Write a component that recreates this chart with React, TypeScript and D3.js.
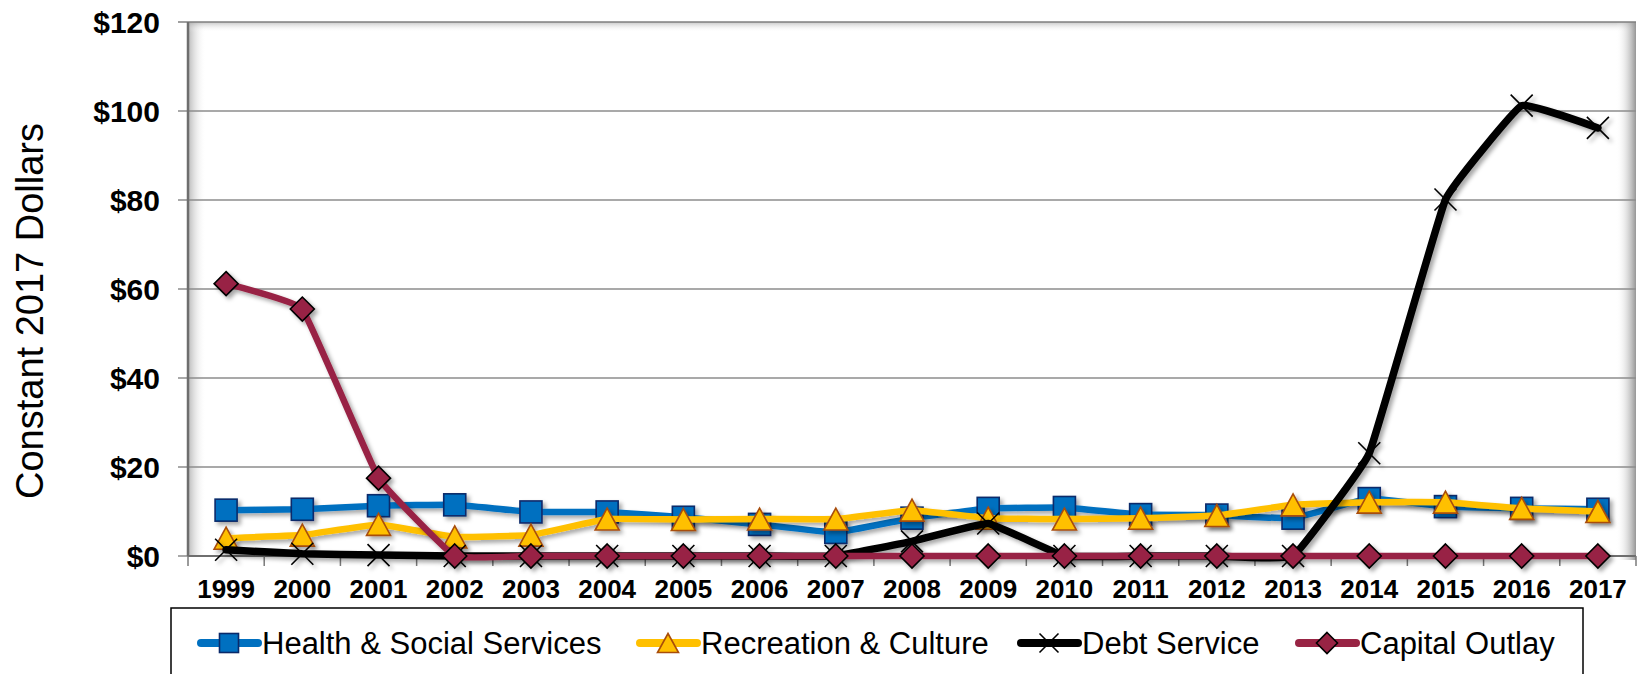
import React from "react";
import * as d3 from "d3";

const years = ["1999","2000","2001","2002","2003","2004","2005","2006","2007","2008","2009","2010","2011","2012","2013","2014","2015","2016","2017"];
const health = [10.3,10.5,11.3,11.5,9.9,9.9,8.7,7.1,5.3,8.5,10.7,10.9,9.3,9.2,8.5,12.9,11.1,10.7,10.5];
const recreation = [4.0,4.7,7.1,4.3,4.7,8.3,8.2,8.3,8.3,10.3,8.5,8.3,8.5,9.1,11.5,12.1,12.1,10.7,10.0];
const debt = [1.4,0.5,0.2,0,0,0,0,0,0,3.3,7.3,0,0,0,0,23.1,80.1,101.2,96.2];
const capital = [61.2,55.5,17.5,0,0,0,0,0,0,0,0,0,0,0,0,0,0,0,0];
const yTicks = [0,20,40,60,80,100,120];
const seriesNames = ["Health & Social Services","Recreation & Culture","Debt Service","Capital Outlay"];

const W = 1639, H = 674;
const L = 188, R = 1636, T = 22, B = 556;

type Kind = "square" | "triangle" | "x" | "diamond";
const series: { name: string; values: number[]; color: string; kind: Kind; fill: string; mstroke: string; width: number }[] = [
  { name: seriesNames[0], values: health, color: "#0070C0", kind: "square", fill: "#0070C0", mstroke: "#0A2A6A", width: 6.5 },
  { name: seriesNames[1], values: recreation, color: "#FFC000", kind: "triangle", fill: "#FFC000", mstroke: "#A84D0A", width: 6.5 },
  { name: seriesNames[2], values: debt, color: "#000000", kind: "x", fill: "none", mstroke: "#000000", width: 7.5 },
  { name: seriesNames[3], values: capital, color: "#982444", kind: "diamond", fill: "#982444", mstroke: "#000000", width: 6.5 },
];

function Marker({ kind, cx, cy, s, fill, stroke }: { kind: Kind; cx: number; cy: number; s: number; fill: string; stroke: string }) {
  const h = s / 2;
  if (kind === "square") return <rect x={cx - h} y={cy - h} width={s} height={s} fill={fill} stroke={stroke} strokeWidth={1.6} />;
  if (kind === "triangle") return <path d={`M${cx},${cy - h}L${cx + h + 1},${cy + h}L${cx - h - 1},${cy + h}Z`} fill={fill} stroke={stroke} strokeWidth={1.6} strokeLinejoin="miter" />;
  if (kind === "diamond") return <path d={`M${cx},${cy - h - 1}L${cx + h + 1},${cy}L${cx},${cy + h + 1}L${cx - h - 1},${cy}Z`} fill={fill} stroke={stroke} strokeWidth={1.6} />;
  return <path d={`M${cx - h},${cy - h}L${cx + h},${cy + h}M${cx + h},${cy - h}L${cx - h},${cy + h}`} stroke={stroke} strokeWidth={1.6} fill="none" />;
}

export default function App() {
  const x = d3.scaleBand<string>().domain(years).range([L, R]).padding(0);
  const bw = x.bandwidth();
  const cx = (d: string) => (x(d) as number) + bw / 2;
  const y = d3.scaleLinear().domain([0, 120]).range([B, T]);
  const line = d3.line<number>().x((_, i) => cx(years[i])).y((v) => y(v)).curve(d3.curveCardinal.tension(0.75));

  const legendX = [201, 640, 1021, 1299];
  const font = "Arial, 'Liberation Sans', sans-serif";

  return (
    <svg width={W} height={H} style={{ position: "absolute", left: 0, top: 0, background: "#fff" }} fontFamily={font}>
      <defs>
        <filter id="sh" x="-10%" y="-10%" width="120%" height="130%">
          <feDropShadow dx="3" dy="3" stdDeviation="2.2" floodColor="#000" floodOpacity="0.35" />
        </filter>
        <linearGradient id="gl" x1="0" x2="1" y1="0" y2="0">
          <stop offset="0" stopColor="#9a9a9a" stopOpacity="0.7" />
          <stop offset="1" stopColor="#ffffff" stopOpacity="0" />
        </linearGradient>
        <linearGradient id="gr" x1="0" x2="1" y1="0" y2="0">
          <stop offset="0" stopColor="#ffffff" stopOpacity="0" />
          <stop offset="1" stopColor="#8a8a8a" stopOpacity="0.9" />
        </linearGradient>
        <linearGradient id="gt" x1="0" x2="0" y1="0" y2="1">
          <stop offset="0" stopColor="#a0a0a0" stopOpacity="0.6" />
          <stop offset="1" stopColor="#ffffff" stopOpacity="0" />
        </linearGradient>
      </defs>
      {/* plot area shading */}
      <rect x={L} y={T} width={18} height={B - T} fill="url(#gl)" />
      <rect x={L} y={T} width={R - L} height={10} fill="url(#gt)" />
      <rect x={R - 20} y={T} width={20} height={B - T + 4} fill="url(#gr)" />
      {/* gridlines */}
      {yTicks.map((t) => (
        <line key={t} x1={L - 10} x2={R} y1={y(t)} y2={y(t)} stroke={t === 120 ? "#7f7f7f" : "#8c8c8c"} strokeWidth={1.5} />
      ))}
      <line x1={L} x2={L} y1={T} y2={B} stroke="#6e6e6e" strokeWidth={2.5} />
      <line x1={L} x2={R} y1={B} y2={B} stroke="#6e6e6e" strokeWidth={2} />
      {/* x ticks */}
      {years.map((d) => (
        <line key={d} x1={x(d) as number} x2={x(d) as number} y1={B} y2={B + 10} stroke="#7a7a7a" strokeWidth={1.5} />
      ))}
      <line x1={R} x2={R} y1={B} y2={B + 10} stroke="#7a7a7a" strokeWidth={1.5} />
      {/* y labels */}
      {yTicks.map((t) => (
        <text key={t} x={160} y={y(t)} dy="0.36em" textAnchor="end" fontWeight="bold" fontSize={30}>{"$" + t}</text>
      ))}
      {/* x labels */}
      {years.map((d) => (
        <text key={d} x={cx(d)} y={B + 42} textAnchor="middle" fontWeight="bold" fontSize={26}>{d}</text>
      ))}
      {/* y title */}
      <text transform={`translate(43,${(T + B) / 2 + 22}) rotate(-90)`} textAnchor="middle" fontSize={38}>Constant 2017 Dollars</text>
      {/* series */}
      {series.map((s) => (
        <g key={s.name} filter="url(#sh)">
          <path d={line(s.values) || ""} fill="none" stroke={s.color} strokeWidth={s.width} strokeLinejoin="round" strokeLinecap="round" />
          {s.values.map((v, i) => (
            <Marker key={i} kind={s.kind} cx={cx(years[i])} cy={y(v)} s={22} fill={s.fill} stroke={s.mstroke} />
          ))}
        </g>
      ))}
      {/* legend */}
      <rect x={171} y={608} width={1412} height={70} fill="#fff" stroke="#000" strokeWidth={1.5} />
      {series.map((s, i) => (
        <g key={s.name}>
          <line x1={legendX[i]} x2={legendX[i] + 57} y1={643} y2={643} stroke={s.color} strokeWidth={8} strokeLinecap="round" />
          <Marker kind={s.kind} cx={legendX[i] + 28} cy={643} s={19} fill={s.fill} stroke={s.mstroke} />
          <text x={legendX[i] + 61} y={643} dy="0.36em" fontSize={31}>{s.name}</text>
        </g>
      ))}
    </svg>
  );
}
